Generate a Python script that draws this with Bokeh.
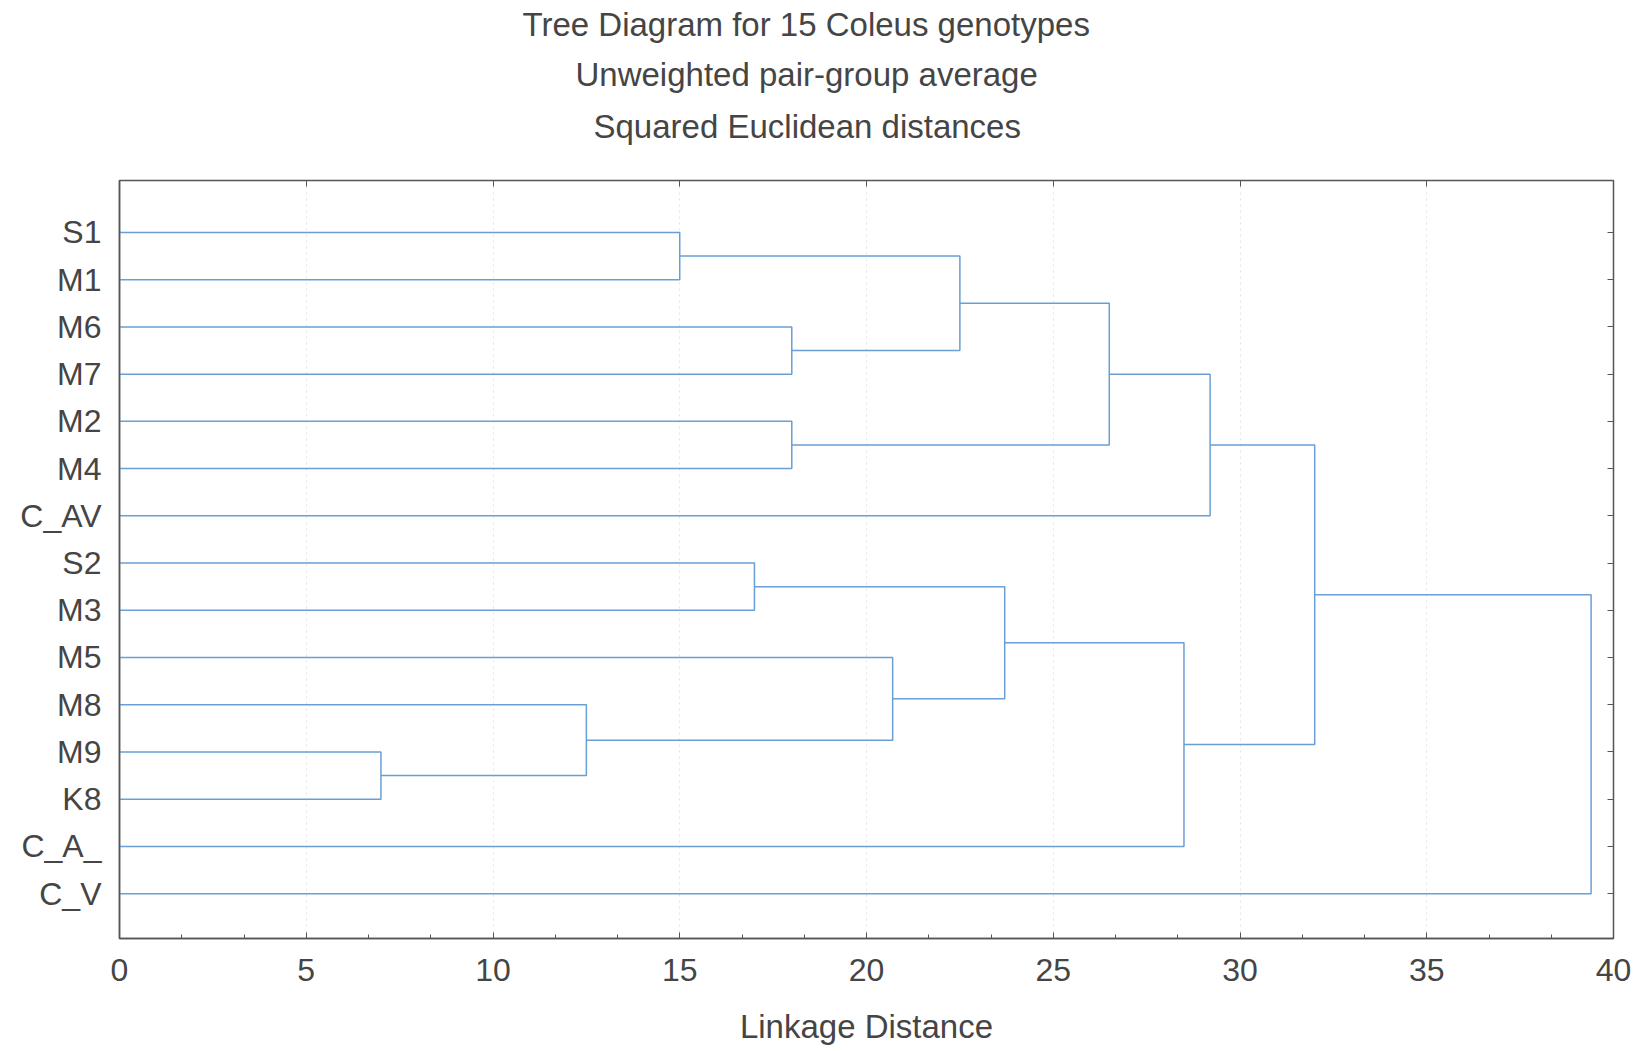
from bokeh.plotting import figure
from bokeh.models import (Range1d, FixedTicker, LinearAxis, Title)
from bokeh.embed import file_html
from bokeh.resources import INLINE

# ---- data ----
leaves = ["S1", "M1", "M6", "M7", "M2", "M4", "C_AV", "S2", "M3",
          "M5", "M8", "M9", "K8", "C_A_", "C_V"]
# merges: node ids (leaves 0..14, new clusters 15..)
merge_left = [11, 10, 0, 7, 2, 4, 9, 17, 18, 22, 23, 24, 26, 27]
merge_right = [12, 15, 1, 8, 3, 5, 16, 19, 21, 20, 13, 6, 25, 14]
merge_height = [7.0, 12.5, 15.0, 17.0, 18.0, 18.0, 20.7, 22.5, 23.7,
                26.5, 28.5, 29.2, 32.0, 39.4]
x_ticks = [0, 5, 10, 15, 20, 25, 30, 35, 40]
title_lines = ["Tree Diagram for 15 Coleus genotypes",
               "Unweighted pair-group average",
               "Squared Euclidean distances"]
x_label = "Linkage Distance"

# ---- dendrogram geometry ----
pos = [i + 1 for i in range(len(leaves))]
hgt = [0.0] * len(leaves)
xs, ys = [], []
for a, b, h in zip(merge_left, merge_right, merge_height):
    xs.append([hgt[a], h, h, hgt[b]])
    ys.append([pos[a], pos[a], pos[b], pos[b]])
    pos.append((pos[a] + pos[b]) / 2.0)
    hgt.append(h)

FONT = "Liberation Sans"
TXT = "#454545"
FRAME = "#555555"
LINE = "#6a9fd4"

p = figure(width=1640, height=1050, output_backend="svg", toolbar_location=None,
           x_range=Range1d(0, 40), y_range=Range1d(15.95, -0.1),
           x_axis_location=None, y_axis_location=None,
           min_border_left=119, min_border_right=27, min_border_bottom=112,
           min_border_top=0)
p.background_fill_color = "white"
p.border_fill_color = "white"
p.outline_line_color = FRAME
p.outline_line_width = 1.5

p.multi_line(xs=xs, ys=ys, line_color=LINE, line_width=1.5)

# grid
p.ygrid.visible = False
p.xgrid.grid_line_color = "#e2e2e2"
p.xgrid.grid_line_dash = "2 4"
p.xgrid.ticker = FixedTicker(ticks=x_ticks)

# bottom axis
xb = LinearAxis(ticker=FixedTicker(ticks=x_ticks,
                                   minor_ticks=[i * 5 / 3 for i in range(25)]))
xb.axis_label = x_label
xb.axis_label_text_font = FONT
xb.axis_label_text_font_size = "33px"
xb.axis_label_text_font_style = "normal"
xb.axis_label_text_color = TXT
xb.axis_label_standoff = 24
xb.major_label_text_font = FONT
xb.major_label_text_font_size = "32px"
xb.major_label_text_color = TXT
xb.major_label_standoff = 20
xb.major_tick_in = 6
xb.major_tick_out = 0
xb.minor_tick_in = 4
xb.minor_tick_out = 0
xb.axis_line_color = FRAME
xb.axis_line_width = 1.5
xb.major_tick_line_color = FRAME
xb.minor_tick_line_color = FRAME
p.add_layout(xb, "below")

# top axis (ticks only; an invisible label gives the gap below the titles)
xt = LinearAxis(ticker=FixedTicker(ticks=x_ticks))
xt.major_label_text_font_size = "0px"
xt.major_label_text_alpha = 0
xt.major_tick_in = 6
xt.major_tick_out = 0
xt.minor_tick_line_color = None
xt.axis_line_color = FRAME
xt.major_tick_line_color = FRAME
xt.major_label_standoff = 0
xt.axis_label = "."
xt.axis_label_text_alpha = 0
xt.axis_label_text_font = FONT
xt.axis_label_text_font_size = "20px"
xt.axis_label_standoff = 14
p.add_layout(xt, "above")

# left axis with genotype labels
yl = LinearAxis(ticker=FixedTicker(ticks=pos[:len(leaves)]))
yl.major_label_overrides = {i + 1: name for i, name in enumerate(leaves)}
yl.major_label_text_font = FONT
yl.major_label_text_font_size = "32px"
yl.major_label_text_color = TXT
yl.major_label_standoff = 18
yl.major_tick_in = 0
yl.major_tick_out = 0
yl.minor_tick_line_color = None
yl.axis_line_color = FRAME
yl.axis_line_width = 1.5
p.add_layout(yl, "left")

# right axis (ticks only)
yr = LinearAxis(ticker=FixedTicker(ticks=pos[:len(leaves)]))
yr.major_label_text_alpha = 0
yr.major_label_text_font_size = "0px"
yr.major_label_standoff = 0
yr.major_tick_in = 6
yr.major_tick_out = 0
yr.minor_tick_line_color = None
yr.axis_line_color = FRAME
yr.major_tick_line_color = FRAME
p.add_layout(yr, "right")

# titles (added inner-most first); left-aligned with offsets so that they
# sit centred on the page rather than on the frame, as in the original
standoffs = [6, 16, 10]
offsets = [403, 456, 474]
for txt, so, off in reversed(list(zip(title_lines, standoffs, offsets))):
    t = Title(text=txt, align="left", offset=off, text_font=FONT,
              text_font_size="33px", text_font_style="normal",
              text_color=TXT, standoff=so)
    p.add_layout(t, "above")

open("out.html", "w").write(file_html(p, INLINE))
